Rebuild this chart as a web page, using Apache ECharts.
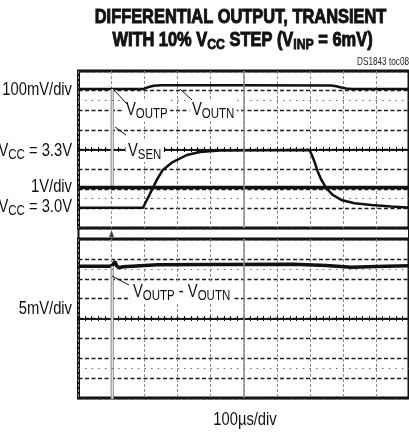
<!DOCTYPE html>
<html><head><meta charset="utf-8">
<script src="https://cdn.jsdelivr.net/npm/echarts@6/dist/echarts.min.js"></script>
<style>html,body{margin:0;padding:0;background:#fff}#c{width:409px;height:433px}</style>
</head><body><div id="c"></div>
<script>
// ---- axes (time in µs, 100µs/div; vertical in scope divisions) ----
const timeMin = 0, timeMax = 1000, timeStep = 100;
const divMin = -4, divMax = 4, divStep = 1;

// ---- upper panel: outputs (100mV/div), VSEN & VCC (1V/div) ----
const outTime = [0,195,205,215,228,250,500,765,780,795,810,828,1000];
const outDiv  = [3.08,3.08,3.14,3.2,3.25,3.27,3.27,3.26,3.22,3.16,3.11,3.08,3.08];
const outSpikeTime = [102,102];
const outSpikeDiv  = [3.08,-1.94];
const senTime = [0,250,500,750,1000];
const senDiv  = [-1.94,-1.93,-1.93,-1.94,-1.94];
const vccTime = [0,195,210,222,237,255,285,328,367,427,699,706,714,724,735,750,770,795,835,886,946,995,1000];
const vccDiv  = [-2.97,-2.97,-2.47,-2.06,-1.55,-1.04,-0.64,-0.28,-0.13,-0.05,-0.03,-0.28,-0.62,-1.13,-1.55,-1.98,-2.32,-2.57,-2.74,-2.83,-2.91,-2.95,-2.95];

// ---- lower panel: VOUTP - VOUTN (5mV/div) ----
const diffTime = [0,95,104,110,115,122,135,240,400,650,750,825,900,1000];
const diffDiv  = [2.63,2.63,2.7,2.88,2.66,2.55,2.6,2.7,2.72,2.73,2.67,2.58,2.62,2.66];
const diffSpikeTime = [102,102];
const diffSpikeDiv  = [2.63,-5];

const triggerTime = [100];
const dottedDivs = [2.5,-2.5];
const centerTime = 500;

const pairs = (xs, ys) => xs.map((x, i) => [x, ys[i]]);
const FONT = '"Liberation Sans",Arial,sans-serif';
const NARROW_SCALE = 0.82;
const INK = '#111';

function mainX(g) {
  return {gridIndex:g, type:'value', min:timeMin, max:timeMax, interval:timeStep,
    axisLine:{show:false, onZero:false}, axisTick:{show:false}, axisLabel:{show:false},
    splitLine:{show:true, lineStyle:{color:'#8c8c8c', type:[3,2], width:1}}};
}
function tickX(g, yIdx, inside) {
  return {gridIndex:g, type:'value', min:timeMin, max:timeMax, interval:timeStep, position:'bottom',
    axisLine:{show:true, onZero:true, onZeroAxisIndex:yIdx, lineStyle:{color:INK, width:1.5}},
    axisTick:{show:true, inside:inside, length:2.5, lineStyle:{color:INK, width:1}},
    minorTick:{show:true, splitNumber:5, length:2.5, lineStyle:{color:INK, width:1}},
    axisLabel:{show:false}, splitLine:{show:false}};
}
function mainY(g) {
  return {gridIndex:g, type:'value', min:divMin, max:divMax, interval:divStep,
    axisLine:{show:false, onZero:false}, axisTick:{show:false}, axisLabel:{show:false},
    splitLine:{show:true, lineStyle:{color:'#1a1a1a', type:[4,2.5], width:1.3}}};
}
function decor(xi, yi) {
  return {type:'line', xAxisIndex:xi, yAxisIndex:yi, data:[], z:1, silent:true,
    markLine:{silent:true, symbol:'none', label:{show:false}, animation:false,
      data: dottedDivs.map(v => ({yAxis:v, lineStyle:{type:[1.5,5.1], color:'#666', width:1}}))
        .concat([{xAxis:centerTime, lineStyle:{type:'solid', color:'#8c8c8c', width:1.5}}])}};
}
function trace(xi, yi, xs, ys, w, color) {
  return {type:'line', xAxisIndex:xi, yAxisIndex:yi, data:pairs(xs, ys), symbol:'none', z:3,
    lineStyle:{color:color || INK, width:w}, silent:true};
}

const mainStyle = {fontSize:18, fontFamily:FONT, lineHeight:22, verticalAlign:'middle', fill:'#111'};
const subStyle  = {fontSize:14, fontFamily:FONT, lineHeight:14, verticalAlign:'bottom', fill:'#111'};
function label(text, x, top, align, bg) {
  const st = {text:text, x:0, y:0, align:align, verticalAlign:'top',
    rich:{m:mainStyle, s:subStyle}, fill:'#111'};
  if (bg) { st.backgroundColor = '#fff'; st.padding = [0,3]; }
  return {type:'text', z:100, x:x, y:top, scaleX:NARROW_SCALE, style:st};
}
function leader(x1,y1,x2,y2) {
  return {type:'line', z:100, shape:{x1:x1,y1:y1,x2:x2,y2:y2}, style:{stroke:'#111', lineWidth:1}};
}
const tMain = {fontSize:20, fontFamily:FONT, fontWeight:'bold', lineHeight:24, verticalAlign:'middle', fill:'#111', stroke:'#111', lineWidth:1};
const tSub  = {fontSize:15, fontFamily:FONT, fontWeight:'bold', lineHeight:16, verticalAlign:'bottom', fill:'#111', stroke:'#111', lineWidth:0.8};

const chart = echarts.init(document.getElementById('c'), null, {renderer:'canvas'});
chart.setOption({
  animation:false,
  backgroundColor:'#fff',
  grid:[
    {left:78.5, top:71, width:331, height:157, show:true, borderColor:INK, borderWidth:3},
    {left:78.5, top:239, width:331, height:159, show:true, borderColor:INK, borderWidth:3},
    {left:78.5, top:228, width:331, height:11, show:true, borderColor:INK, borderWidth:2}
  ],
  xAxis:[ mainX(0), tickX(0,0,true), tickX(0,0,false), mainX(1), tickX(1,1,true), tickX(1,1,false),
    {gridIndex:2, type:'value', min:timeMin, max:timeMax, show:false} ],
  yAxis:[ mainY(0), mainY(1), {gridIndex:2, type:'value', min:0, max:1, show:false} ],
  series:[
    decor(0,0),
    trace(0,0,outTime,outDiv,2.5),
    trace(0,0,outSpikeTime,outSpikeDiv,3.2,'#8a8a8a'),
    trace(0,0,outSpikeTime,outSpikeDiv,1,'#fff'),
    trace(0,0,senTime,senDiv,3.5),
    trace(0,0,vccTime,vccDiv,2.5),
    decor(3,1),
    trace(3,1,diffTime,diffDiv,3.5),
    trace(3,1,diffSpikeTime,diffSpikeDiv,3.2,'#8a8a8a'),
    trace(3,1,diffSpikeTime,diffSpikeDiv,1,'#fff'),
    {type:'scatter', xAxisIndex:6, yAxisIndex:2, data:triggerTime.map(t => [t, 0.5]),
      symbol:'triangle', symbolSize:[5,7], itemStyle:{color:INK}, silent:true}
  ],
  graphic:[
    {type:'text', z:100, x:240.5, y:5.5, scaleX:NARROW_SCALE, style:{text:'{t|DIFFERENTIAL OUTPUT, TRANSIENT}', x:0, y:0, align:'center', verticalAlign:'top',
      rich:{t:tMain}, fill:'#111'}},
    {type:'text', z:100, x:242.5, y:28.5, scaleX:NARROW_SCALE, style:{text:'{t|WITH 10% V}{s|CC}{t| STEP (V}{s|INP}{t| = 6mV)}', x:0, y:0, align:'center', verticalAlign:'top',
      rich:{t:tMain, s:tSub}, fill:'#111'}},
    {type:'text', z:100, x:409, y:62.5, scaleX:NARROW_SCALE, style:{text:'DS1843 toc08', x:0, y:0, align:'right', verticalAlign:'middle',
      fontSize:10, fontFamily:FONT, fill:'#222'}},
    label('{m|100mV/div}', 72, 79.5, 'right'),
    label('{m|V}{s|CC}{m| = 3.3V}', 72, 140, 'right'),
    label('{m|1V/div}', 72, 176.5, 'right'),
    label('{m|V}{s|CC}{m| = 3.0V}', 72, 196.5, 'right'),
    label('{m|5mV/div}', 72, 298, 'right'),
    label('{m|100µs/div}', 245, 409.5, 'center'),
    label('{m|V}{s|OUTP}', 123.5, 99.5, 'left', true),
    label('{m|V}{s|OUTN}', 189.5, 99, 'left', true),
    label('{m|V}{s|SEN}', 125.5, 140, 'left', true),
    label('{m|V}{s|OUTP}{m| - V}{s|OUTN}', 130.5, 281.5, 'left', true),
    leader(114,90,127,104),
    leader(180,89,192,100),
    leader(115,127,126,135),
    leader(112,276,129,285)
  ]
});
</script></body></html>
